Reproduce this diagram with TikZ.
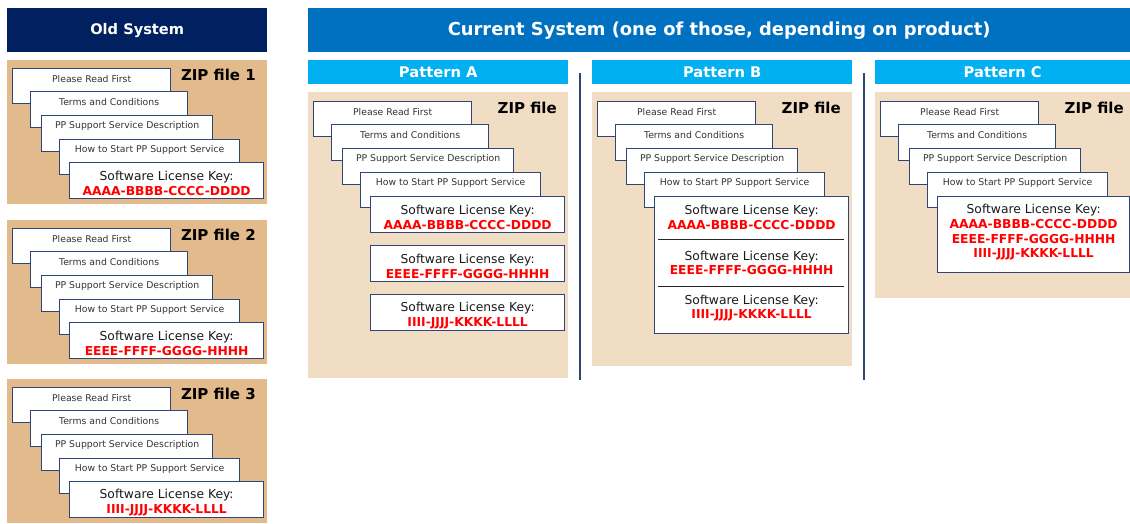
\documentclass[tikz,border=0pt]{standalone}
\usepackage{fontspec}
\setmainfont{DejaVu Sans}
\usetikzlibrary{positioning}

\definecolor{oldnavy}{HTML}{002060}
\definecolor{curblue}{HTML}{0070C0}
\definecolor{patcyan}{HTML}{00B0F0}
\definecolor{oldtan}{HTML}{E2BA8C}
\definecolor{newtan}{HTML}{F1DDC4}
\definecolor{cardline}{HTML}{2E4676}
\definecolor{keyred}{HTML}{FF0000}

\tikzset{
  head/.style={fill=#1, text=white, anchor=north west, inner sep=0pt, minimum height=44pt},
  pathead/.style={fill=patcyan, text=white, anchor=north west, inner sep=0pt, minimum width=260pt, minimum height=24pt,
    font=\bfseries\fontsize{14.7}{16}\selectfont},
  panel/.style={fill=#1, anchor=north west, inner sep=0pt, minimum width=260pt},
  card/.style={draw=cardline, line width=1.3pt, fill=white, anchor=north west, inner sep=0pt},
  cardtxt/.style={text=black!80, font=\fontsize{9.3}{11}\selectfont, inner sep=0pt},
  keytxt/.style={align=center, text=black!90, font=\fontsize{12.3}{14.7}\selectfont, inner sep=0pt},
  ziptxt/.style={anchor=east, inner sep=0pt, font=\bfseries\fontsize{15}{17}\selectfont},
  divider/.style={draw=black!85, line width=1pt},
  sepline/.style={draw=cardline, line width=1.2pt}
}
\newcommand{\redkey}[1]{\textcolor{keyred}{\bfseries #1}}

% stack of documents in one zip, #1 = name prefix, #2 = zip label
\newcommand{\zipcards}[2]{
  \node[card, minimum width=158pt, minimum height=35pt] (#1r) at (5,8) {};
  \node[cardtxt] (#1rt) at ([yshift=-11pt]#1r.north) {Please Read First};
  \node[card, minimum width=157pt, minimum height=36pt] (#1t) at (23,31) {};
  \node[cardtxt] (#1tt) at ([yshift=-11pt]#1t.north) {Terms and Conditions};
  \node[card, minimum width=171pt, minimum height=36pt] (#1d) at (34,55) {};
  \node[cardtxt] (#1dt) at ([yshift=-11pt]#1d.north) {PP Support Service Description};
  \node[card, minimum width=180pt, minimum height=35pt] (#1h) at (52,79) {};
  \node[cardtxt] (#1ht) at ([yshift=-11pt]#1h.north) {How to Start PP Support Service};
  \node[ziptxt] (#1z) at (249,15) {#2};
}

\begin{document}
\begin{tikzpicture}[x=1pt,y=-1pt]
\useasboundingbox (0,0) rectangle (1130,524);

% headers
\node[head=oldnavy, minimum width=260pt, font=\bfseries\fontsize{14.6}{16}\selectfont] (old) at (7,8) {Old System};
\node[head=curblue, minimum width=822pt, font=\bfseries\fontsize{17.9}{20}\selectfont] (cur) at (308,8)
  {Current System (one of those, depending on product)};

% old system: one zip per key
\foreach \i/\y/\code in {1/60/AAAA-BBBB-CCCC-DDDD, 2/220/EEEE-FFFF-GGGG-HHHH, 3/379/IIII-JJJJ-KKKK-LLLL}{
  \node[panel=oldtan, minimum height=144pt] (o\i) at (7,\y) {};
  \begin{scope}[shift={(7,\y)}]
    \zipcards{o\i}{ZIP file \i}
    \node[card, minimum width=194pt, minimum height=36pt] (o\i k) at (62,102) {};
    \node[keytxt] (o\i kt) at ([yshift=-21.5pt]o\i k.north) {Software License Key:\\\redkey{\code}};
  \end{scope}
}

% pattern headers and panels
\node[pathead] (pa) at (308,60) {Pattern A};
\node[pathead] (pb) at (592,60) {Pattern B};
\node[pathead, minimum width=255pt] (pc) at (875,60) {Pattern C};
\node[panel=newtan, minimum height=286pt] (za) at (308,92) {};
\node[panel=newtan, minimum height=274pt] (zb) at (592,92) {};
\node[panel=newtan, minimum width=255pt, minimum height=206pt] (zc) at (875,92) {};

\draw[sepline] (580,73) -- (580,380);
\draw[sepline] (864,73) -- (864,380);

% pattern A: separate keys
\begin{scope}[shift={(308,93)}]
  \zipcards{a}{ZIP file}
  \node[card, minimum width=194pt, minimum height=36pt] (ak1) at (62,103) {};
  \node[keytxt] (ak1t) at ([yshift=-21.5pt]ak1.north) {Software License Key:\\\redkey{AAAA-BBBB-CCCC-DDDD}};
  \node[card, minimum width=194pt, minimum height=36pt] (ak2) at (62,152) {};
  \node[keytxt] (ak2t) at ([yshift=-21.5pt]ak2.north) {Software License Key:\\\redkey{EEEE-FFFF-GGGG-HHHH}};
  \node[card, minimum width=194pt, minimum height=36pt] (ak3) at (62,201) {};
  \node[keytxt] (ak3t) at ([yshift=-21.5pt]ak3.north) {Software License Key:\\\redkey{IIII-JJJJ-KKKK-LLLL}};
\end{scope}

% pattern B: one card, three keys
\begin{scope}[shift={(592,93)}]
  \zipcards{b}{ZIP file}
  \node[card, minimum width=194pt, minimum height=137pt] (bk) at (62,103) {};
  \draw[divider] ([xshift=4pt,yshift=-43pt]bk.north west) -- ([xshift=-5pt,yshift=-43pt]bk.north east);
  \draw[divider] ([xshift=4pt,yshift=-90pt]bk.north west) -- ([xshift=-5pt,yshift=-90pt]bk.north east);
  \node[keytxt] (bk1t) at ([yshift=-21.5pt]bk.north) {Software License Key:\\\redkey{AAAA-BBBB-CCCC-DDDD}};
  \node[keytxt] (bk2t) at ([yshift=-67pt]bk.north) {Software License Key:\\\redkey{EEEE-FFFF-GGGG-HHHH}};
  \node[keytxt] (bk3t) at ([yshift=-112pt]bk.north) {Software License Key:\\\redkey{IIII-JJJJ-KKKK-LLLL}};
\end{scope}

% pattern C: one key field, three keys
\begin{scope}[shift={(875,93)}]
  \zipcards{c}{ZIP file}
  \node[card, minimum width=192pt, minimum height=76pt] (ck) at (62,103) {};
  \node[keytxt] (ckt) at ([yshift=-36.5pt]ck.north) {Software License Key:\\\redkey{AAAA-BBBB-CCCC-DDDD}\\
    \redkey{EEEE-FFFF-GGGG-HHHH}\\\redkey{IIII-JJJJ-KKKK-LLLL}};
\end{scope}
\end{tikzpicture}
\end{document}
